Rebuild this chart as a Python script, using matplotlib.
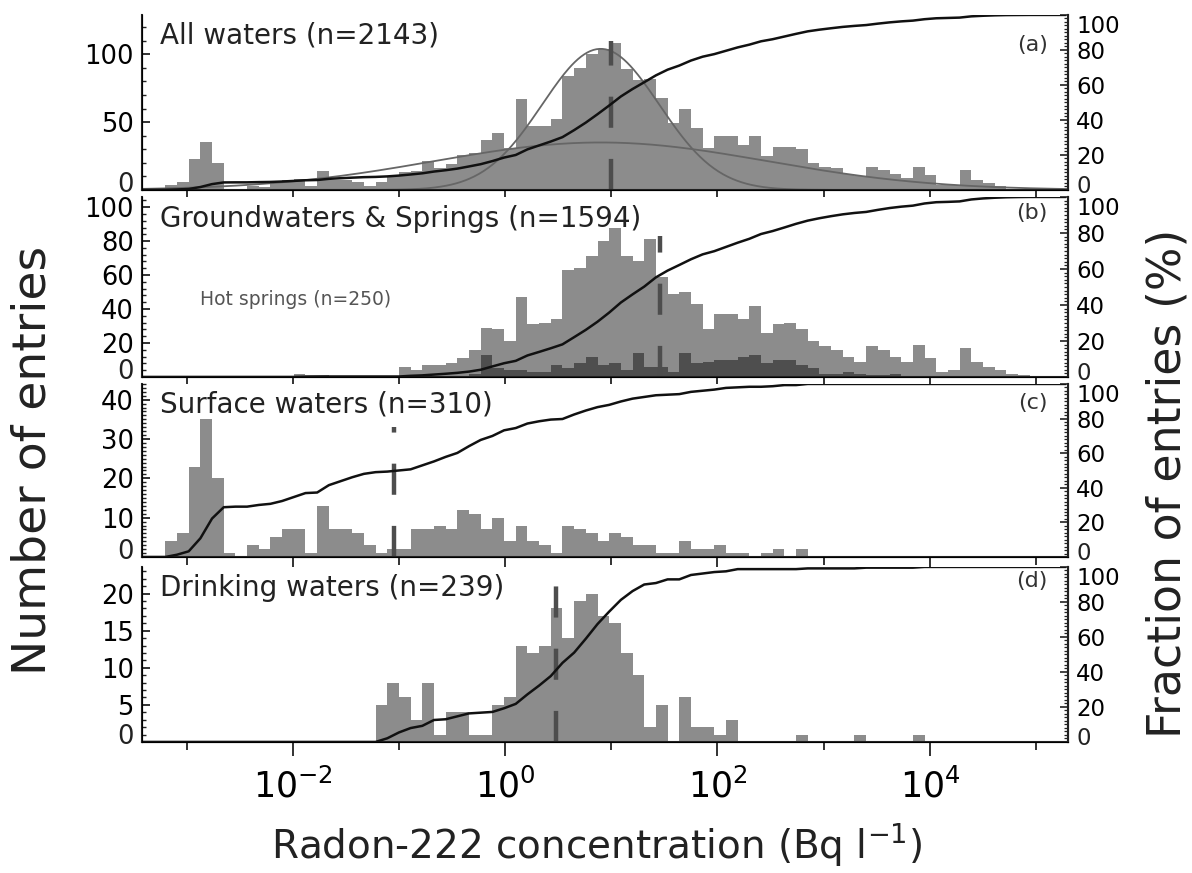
import numpy as np
import matplotlib
matplotlib.use("Agg")
import matplotlib.pyplot as plt
from matplotlib.ticker import FixedLocator, MultipleLocator, NullFormatter

plt.rcParams['font.family'] = ['DejaVu Sans']
plt.rcParams['mathtext.fontset'] = 'dejavusans'

# histogram bins in log10(Bq/l): first edge and width (decades)
bin_start = -3.42
bin_step = 0.11

all_waters = [1, 1, 4, 6, 23, 35, 20, 1, 0, 3,
              2, 5, 7, 8, 3, 14, 7, 7, 6, 3,
              6, 10, 13, 14, 21, 16, 19, 26, 27, 37,
              42, 31, 67, 47, 47, 52, 84, 90, 100, 104,
              108, 89, 81, 82, 68, 49, 60, 46, 31, 40,
              40, 33, 40, 25, 32, 32, 30, 20, 17, 16,
              12, 10, 17, 15, 12, 9, 17, 11, 4, 4,
              15, 7, 5, 3, 1, 1, 0, 0, 0]

groundwaters = [0, 0, 0, 0, 0, 0, 0, 0, 0, 0,
                0, 0, 0, 2, 1, 1, 0, 0, 0, 0,
                0, 0, 6, 4, 7, 7, 8, 11, 16, 29,
                28, 21, 47, 31, 32, 34, 63, 64, 71, 80,
                88, 71, 68, 81, 59, 49, 50, 43, 28, 37,
                37, 34, 42, 26, 31, 32, 28, 21, 18, 16,
                12, 9, 18, 16, 12, 9, 19, 11, 3, 4,
                17, 9, 6, 4, 2, 1, 0, 0, 0]

hot_springs = [0, 0, 0, 0, 0, 0, 0, 0, 0, 0,
               0, 0, 0, 0, 0, 0, 0, 0, 0, 0,
               0, 0, 0, 0, 0, 0, 0, 0, 2, 13,
               5, 4, 4, 3, 3, 7, 5, 8, 12, 7,
               8, 4, 14, 6, 6, 3, 14, 8, 9, 10,
               10, 12, 13, 8, 10, 10, 7, 5, 2, 2,
               3, 2, 1, 1, 2, 0, 0, 0, 0, 0,
               0, 0, 0, 0, 0, 0, 0, 0, 0]

surface_waters = [0, 0, 4, 6, 23, 35, 20, 1, 0, 3,
                  2, 5, 7, 7, 1, 13, 7, 7, 6, 3,
                  1, 2, 2, 7, 7, 8, 7, 12, 11, 7,
                  10, 4, 8, 4, 3, 1, 8, 7, 6, 4,
                  6, 5, 3, 3, 1, 1, 4, 2, 2, 3,
                  1, 1, 0, 1, 2, 0, 2, 0, 0, 0,
                  0, 0, 0, 0, 0, 0, 0, 0, 0, 0,
                  0, 0, 0, 0, 0, 0, 0, 0, 0]

drinking_waters = [0, 0, 0, 0, 0, 0, 0, 0, 0, 0,
                   0, 0, 0, 0, 0, 0, 0, 0, 0, 0,
                   5, 8, 6, 3, 8, 1, 4, 4, 1, 1,
                   5, 6, 13, 12, 13, 18, 14, 19, 20, 17,
                   16, 12, 9, 2, 5, 0, 6, 2, 2, 1,
                   3, 0, 0, 0, 0, 0, 1, 0, 0, 0,
                   0, 1, 0, 0, 0, 0, 1, 0, 0, 0,
                   0, 0, 0, 0, 0, 0, 0, 0, 0]

titles = ['All waters (n=2143)', 'Groundwaters & Springs (n=1594)',
          'Surface waters (n=310)', 'Drinking waters (n=239)']
letters = ['(a)', '(b)', '(c)', '(d)']
medians = [10.0, 29.0, 0.089, 3.0]          # Bq/l, dashed lines
median_tops = [110, 83, 33, 22]             # height of the dashed lines (entries)

# log-normal fits drawn in panel (a): amplitude, mean log10, sigma log10
fit_narrow = (104, 0.90, 0.55)
fit_broad = (35, 0.90, 1.57)

series = [all_waters, groundwaters, surface_waters, drinking_waters]
ytops = [129, 106, 44, 23.6]
ymajor = [[0, 50, 100], [0, 20, 40, 60, 80, 100], [0, 10, 20, 30, 40], [0, 5, 10, 15, 20]]
yminor = [10, 4, 1, 1]
letter_y = [0.83, 0.91, 0.89, 0.92]

fig = plt.figure(figsize=(11.92, 8.73), dpi=100)
rects = [(0.1191, 0.7824, 0.7768, 0.2005),
         (0.1191, 0.5682, 0.7768, 0.2062),
         (0.1191, 0.3620, 0.7768, 0.1982),
         (0.1191, 0.1501, 0.7768, 0.2005)]

xmin, xmax = 10 ** -3.42, 10 ** 5.30
bar_col = '#8c8c8c'
ink = '#222222'

for i, r in enumerate(rects):
    ax = fig.add_axes(r)
    counts = np.array(series[i], dtype=float)
    edges = 10 ** (bin_start + bin_step * np.arange(len(counts) + 1))
    ax.set_xscale('log')
    ax.bar(edges[:-1], counts, width=np.diff(edges), align='edge', color=bar_col, lw=0)
    if i == 1:
        hot = np.array(hot_springs, dtype=float)
        ax.bar(edges[:-1], hot, width=np.diff(edges), align='edge', color='#4e4e4e', lw=0)
        ax.text(0.063, 0.43, 'Hot springs (n=250)', transform=ax.transAxes,
                fontsize=13.5, color='#555555', va='center', ha='left')
    if i == 0:
        lg = np.linspace(-3.42, 5.30, 600)
        for amp, mu, sig in (fit_narrow, fit_broad):
            ax.plot(10 ** lg, amp * np.exp(-0.5 * ((lg - mu) / sig) ** 2),
                    color='#666666', lw=1.3)
    ax.plot([medians[i], medians[i]], [0, median_tops[i]], color='#4d4d4d',
            lw=3.2, dashes=(7, 7))

    ax.set_xlim(xmin, xmax)
    ax.set_ylim(0, ytops[i])
    ax.spines['top'].set_visible(False)
    for s in ('left', 'right', 'bottom'):
        ax.spines[s].set_linewidth(1.5)
        ax.spines[s].set_color(ink)

    ax.xaxis.set_major_locator(FixedLocator([1e-2, 1e0, 1e2, 1e4]))
    ax.xaxis.set_minor_locator(FixedLocator([1e-3, 1e-1, 1e1, 1e3, 1e5]))
    ax.xaxis.set_minor_formatter(NullFormatter())
    ax.tick_params(axis='x', which='major', direction='out', length=10, width=1.3,
                   color=ink, top=False, pad=9, labelsize=25)
    ax.tick_params(axis='x', which='minor', direction='out', length=6, width=1.3,
                   color=ink, top=False)
    if i < 3:
        ax.tick_params(axis='x', labelbottom=False)
    else:
        ax.set_xticklabels(['$10^{-2}$', '$10^{0}$', '$10^{2}$', '$10^{4}$'])

    # left axis: the "0" label sits a little above its tick, as in the original
    ax.set_yticks(ymajor[i])
    ax.set_yticklabels(['' if v == 0 else str(v) for v in ymajor[i]])
    ax.annotate('0', xy=(0, 0), xycoords=('axes fraction', 'data'),
                xytext=(-6, 5.5), textcoords='offset points', ha='right',
                va='center_baseline', fontsize=18.5, color=ink)
    ax.yaxis.set_minor_locator(MultipleLocator(yminor[i]))
    ax.tick_params(axis='y', which='major', direction='in', length=6, width=1.3,
                   color=ink, labelsize=18.5, pad=6, right=False)
    ax.tick_params(axis='y', which='minor', direction='in', length=3, width=1.0,
                   color=ink, right=False)

    ax.text(0.019, 0.88, titles[i], transform=ax.transAxes, fontsize=20,
            color=ink, va='center', ha='left')
    ax.text(0.978, letter_y[i], letters[i], transform=ax.transAxes, fontsize=16,
            color='#333333', va='center', ha='right')

    # cumulative fraction on the right axis
    ax2 = ax.twinx()
    cum = np.concatenate([[0], np.cumsum(counts)]) / counts.sum() * 100
    ax2.plot(edges, cum, color='#111111', lw=1.8)
    ax2.set_xlim(xmin, xmax)
    ax2.set_ylim(0, 100)
    ax2.spines['top'].set_visible(False)
    ax2.spines['right'].set_linewidth(1.5)
    ax2.spines['right'].set_color(ink)
    ax2.set_yticks([0, 20, 40, 60, 80, 100])
    ax2.set_yticklabels(['', '20', '40', '60', '80', '100'])
    ax2.annotate('0', xy=(1, 0), xycoords='axes fraction', xytext=(6, 4.5),
                 textcoords='offset points', ha='left', va='center_baseline',
                 fontsize=16.5, color=ink)
    ax2.yaxis.set_minor_locator(MultipleLocator(2))
    ax2.tick_params(axis='y', which='major', direction='in', length=6, width=1.2,
                    color=ink, labelsize=16.5, pad=6)
    ax2.tick_params(axis='y', which='minor', direction='in', length=3, width=0.9,
                    color=ink)
    for lab in ax2.get_yticklabels():
        if lab.get_text() == '100':
            lab.set_va('top')

fig.text(597 / 1192, 1 - 845 / 873, 'Radon-222 concentration (Bq l$^{-1}$)',
         fontsize=28, ha='center', va='center', color=ink)
fig.text(33 / 1192, 1 - 460 / 873, 'Number of entries', fontsize=34,
         rotation=90, ha='center', va='center', color=ink)
fig.text(1168 / 1192, 1 - 483 / 873, 'Fraction of entries (%)', fontsize=33,
         rotation=90, ha='center', va='center', color=ink)

fig.savefig('out.png', dpi=100, facecolor='white')
